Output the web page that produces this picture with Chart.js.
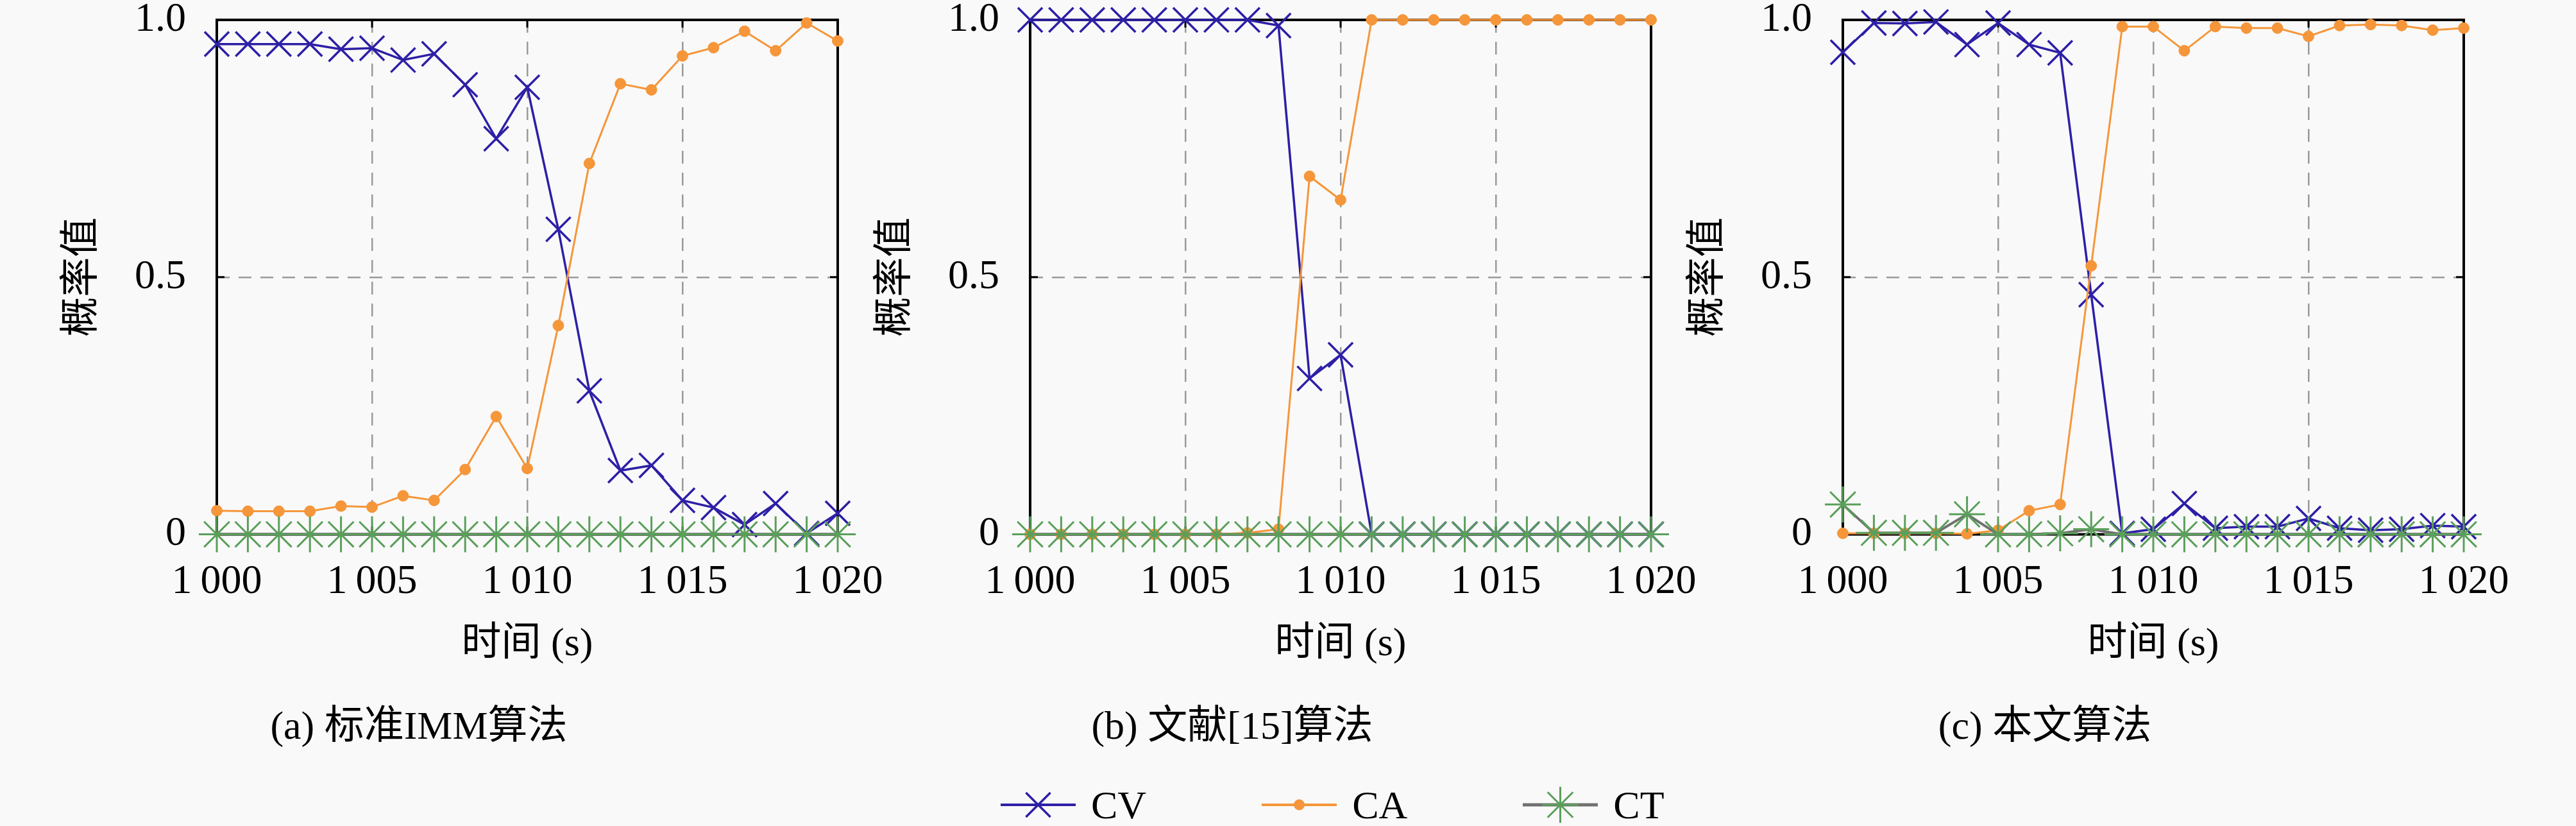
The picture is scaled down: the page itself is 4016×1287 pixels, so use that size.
<!DOCTYPE html>
<html>
<head>
<meta charset="utf-8">
<script src="https://cdn.jsdelivr.net/npm/chart.js@4.4.0/dist/chart.umd.min.js"></script>
<style>
  html, body { margin: 0; padding: 0; background: #f9f9f9; }
  #wrap { position: relative; width: 4016px; height: 1287px; overflow: hidden; background: #f9f9f9; }
  .panel { position: absolute; top: 0; }
  #legend {
    position: absolute; left: 1560px; top: 1222px; height: 64px;
    display: flex; align-items: center; gap: 180px;
    font-family: "Liberation Serif", "Noto Sans CJK SC", serif; font-size: 62px; color: #000;
  }
  .item { display: flex; align-items: center; line-height: 64px; }
  .item canvas { margin-right: 24px; }
</style>
</head>
<body>
<div id="wrap">
  <canvas id="pa" class="panel" width="1400" height="1190" style="left:0px"></canvas>
  <canvas id="pb" class="panel" width="1400" height="1190" style="left:1268px"></canvas>
  <canvas id="pc" class="panel" width="1400" height="1190" style="left:2535px"></canvas>
  <div id="legend"></div>
</div>
<script>
// time axis (s)
const times = [1000, 1001, 1002, 1003, 1004, 1005, 1006, 1007, 1008, 1009, 1010,
               1011, 1012, 1013, 1014, 1015, 1016, 1017, 1018, 1019, 1020];

const xTickValues = [1000, 1005, 1010, 1015, 1020];
const xTickLabels = ['1\u2009000', '1\u2009005', '1\u2009010', '1\u2009015', '1\u2009020'];
const yTickValues = [0, 0.5, 1];
const yTickLabels = ['0', '0.5', '1.0'];

const seriesNames = ['CV', 'CA', 'CT'];
const captions = ['(a) 标准IMM算法', '(b) 文献[15]算法', '(c) 本文算法'];

// (a) standard IMM
const cvA = [0.953, 0.953, 0.953, 0.953, 0.943, 0.945, 0.922, 0.934, 0.874, 0.769, 0.869,
             0.593, 0.279, 0.124, 0.134, 0.066, 0.052, 0.019, 0.060, 0.002, 0.041];
const caA = [0.046, 0.045, 0.045, 0.045, 0.055, 0.053, 0.075, 0.066, 0.126, 0.229, 0.128,
             0.406, 0.721, 0.876, 0.864, 0.930, 0.946, 0.978, 0.940, 0.994, 0.959];
const ctA = [0, 0, 0, 0, 0, 0, 0, 0, 0, 0, 0, 0, 0, 0, 0, 0, 0, 0, 0, 0, 0];

// (b) ref [15]
const cvB = [1, 1, 1, 1, 1, 1, 1, 1, 0.989, 0.303, 0.349,
             0, 0, 0, 0, 0, 0, 0, 0, 0, 0];
const caB = [0, 0, 0, 0, 0, 0, 0, 0.003, 0.010, 0.696, 0.650,
             1, 1, 1, 1, 1, 1, 1, 1, 1, 1];
const ctB = [0, 0, 0, 0, 0, 0, 0, 0, 0, 0, 0, 0, 0, 0, 0, 0, 0, 0, 0, 0, 0];

// (c) proposed
const cvC = [0.937, 0.994, 0.993, 0.996, 0.952, 0.994, 0.952, 0.936, 0.466, 0.002, 0.010,
             0.060, 0.012, 0.015, 0.015, 0.031, 0.012, 0.008, 0.010, 0.017, 0.015];
const caC = [0.002, 0.002, 0.002, 0.002, 0.001, 0.008, 0.046, 0.058, 0.522, 0.987, 0.987,
             0.940, 0.987, 0.984, 0.984, 0.968, 0.989, 0.991, 0.989, 0.980, 0.984];
const ctC = [0.058, 0.003, 0.003, 0.003, 0.039, 0, 0, 0.002, 0.010, 0, 0,
             0, 0, 0, 0, 0, 0, 0, 0, 0, 0];

const FONT = '"Liberation Serif", "Noto Sans CJK SC", serif';
const cvColor = '#2d1fa6';
const caColor = '#f5963a';
const ctMark = '#5a9f5a';
const ctLine = '#707070';
const gridColor = '#9a9a9a';

const pairs = arr => arr.map((y, i) => ({ x: times[i], y: y }));

// black frame + small inward ticks like pgfplots
const framePlugin = {
  id: 'frame',
  beforeDatasetsDraw(chart) {
    const { ctx, chartArea: a, scales } = chart;
    ctx.save();
    ctx.strokeStyle = '#000';
    ctx.lineWidth = 4;
    ctx.strokeRect(a.left, a.top, a.right - a.left, a.bottom - a.top);
    ctx.lineWidth = 3;
    ctx.beginPath();
    xTickValues.forEach(v => {
      const px = scales.x.getPixelForValue(v);
      ctx.moveTo(px, a.top); ctx.lineTo(px, a.top + 12);
      ctx.moveTo(px, a.bottom); ctx.lineTo(px, a.bottom - 12);
    });
    yTickValues.forEach(v => {
      const py = scales.y.getPixelForValue(v);
      ctx.moveTo(a.left, py); ctx.lineTo(a.left + 12, py);
      ctx.moveTo(a.right, py); ctx.lineTo(a.right - 12, py);
    });
    ctx.stroke();
    ctx.restore();
  }
};

function makeChart(id, caption, cv, ca, ct) {
  return new Chart(document.getElementById(id), {
    type: 'line',
    data: {
      datasets: [
        {
          label: seriesNames[0], data: pairs(cv), order: 3, clip: false,
          borderColor: cvColor, borderWidth: 3.5,
          pointStyle: 'crossRot', pointRadius: 27, pointBorderWidth: 3.5,
          pointBorderColor: cvColor, pointBackgroundColor: cvColor
        },
        {
          label: seriesNames[1], data: pairs(ca), order: 2, clip: false,
          borderColor: caColor, borderWidth: 3,
          pointStyle: 'circle', pointRadius: 8.5, pointBorderWidth: 1,
          pointBorderColor: caColor, pointBackgroundColor: caColor
        },
        {
          label: seriesNames[2], data: pairs(ct), order: 1, clip: false,
          borderColor: ctLine, borderWidth: 4,
          pointStyle: 'star', pointRadius: 28, pointBorderWidth: 3,
          pointBorderColor: ctMark, pointBackgroundColor: ctMark
        }
      ]
    },
    options: {
      responsive: false,
      animation: false,
      devicePixelRatio: 1,
      layout: { padding: { top: 27, right: 94, bottom: 8, left: 0 } },
      elements: { line: { tension: 0 } },
      plugins: {
        legend: { display: false },
        tooltip: { enabled: false },
        title: {
          display: true, position: 'bottom', text: caption, color: '#000',
          font: { family: FONT, size: 62, weight: 'normal', lineHeight: 1.2 },
          padding: { top: 38, bottom: 10 }
        }
      },
      scales: {
        x: {
          type: 'linear', min: 1000, max: 1020,
          afterBuildTicks: s => { s.ticks = xTickValues.map(v => ({ value: v })); },
          afterFit: s => { s.height = 227; s.paddingLeft = 0; s.paddingRight = 0; },
          ticks: {
            callback: (v, i) => xTickLabels[i],
            font: { family: FONT, size: 64 }, color: '#000',
            padding: 36, maxRotation: 0, autoSkip: false
          },
          grid: { color: gridColor, lineWidth: 2.5, drawTicks: false },
          border: { display: false, dash: [20, 14] },
          title: {
            display: true, text: '时间 (s)', color: '#000',
            font: { family: FONT, size: 62, lineHeight: 1.2 },
            padding: { top: 0, bottom: 18 }
          }
        },
        y: {
          min: 0, max: 1,
          afterBuildTicks: s => { s.ticks = yTickValues.map(v => ({ value: v })); },
          afterFit: s => { s.width = 338; s.paddingTop = 0; s.paddingBottom = 0; },
          ticks: {
            callback: (v, i) => yTickLabels[i],
            font: { family: FONT, size: 64 }, color: '#000', padding: 48
          },
          grid: { color: gridColor, lineWidth: 2.5, drawTicks: false },
          border: { display: false, dash: [20, 14] },
          title: {
            display: true, text: '概率值', color: '#000',
            font: { family: FONT, size: 62, lineHeight: 1.2 },
            padding: { top: 93, bottom: 0 }
          }
        }
      }
    },
    plugins: [framePlugin]
  });
}

makeChart('pa', captions[0], cvA, caA, ctA);
makeChart('pb', captions[1], cvB, caB, ctB);
makeChart('pc', captions[2], cvC, caC, ctC);

// legend: line sample + marker, like the pgfplots legend
function drawSymbol(ctx, kind, w, h) {
  const cy = h / 2, cx = w / 2;
  ctx.lineCap = 'butt';
  ctx.beginPath();
  ctx.moveTo(0, cy); ctx.lineTo(w, cy);
  if (kind === 0) { ctx.strokeStyle = cvColor; ctx.lineWidth = 4; }
  if (kind === 1) { ctx.strokeStyle = caColor; ctx.lineWidth = 4; }
  if (kind === 2) { ctx.strokeStyle = ctLine; ctx.lineWidth = 5; }
  ctx.stroke();
  ctx.beginPath();
  if (kind === 0) {
    const d = 27 * Math.SQRT1_2;
    ctx.moveTo(cx - d, cy - d); ctx.lineTo(cx + d, cy + d);
    ctx.moveTo(cx - d, cy + d); ctx.lineTo(cx + d, cy - d);
    ctx.strokeStyle = cvColor; ctx.lineWidth = 3.5; ctx.stroke();
  } else if (kind === 1) {
    ctx.arc(cx, cy, 8.5, 0, Math.PI * 2);
    ctx.fillStyle = caColor; ctx.fill();
  } else {
    const r = 28, d = r * Math.SQRT1_2;
    ctx.moveTo(cx, cy - r); ctx.lineTo(cx, cy + r);
    ctx.moveTo(cx - r, cy); ctx.lineTo(cx + r, cy);
    ctx.moveTo(cx - d, cy - d); ctx.lineTo(cx + d, cy + d);
    ctx.moveTo(cx - d, cy + d); ctx.lineTo(cx + d, cy - d);
    ctx.strokeStyle = ctMark; ctx.lineWidth = 3; ctx.stroke();
  }
}

const legend = document.getElementById('legend');
seriesNames.forEach((name, k) => {
  const item = document.createElement('div');
  item.className = 'item';
  const c = document.createElement('canvas');
  c.width = 117; c.height = 64;
  drawSymbol(c.getContext('2d'), k, 117, 64);
  const span = document.createElement('span');
  span.textContent = name;
  item.appendChild(c);
  item.appendChild(span);
  legend.appendChild(item);
});
</script>
</body>
</html>
